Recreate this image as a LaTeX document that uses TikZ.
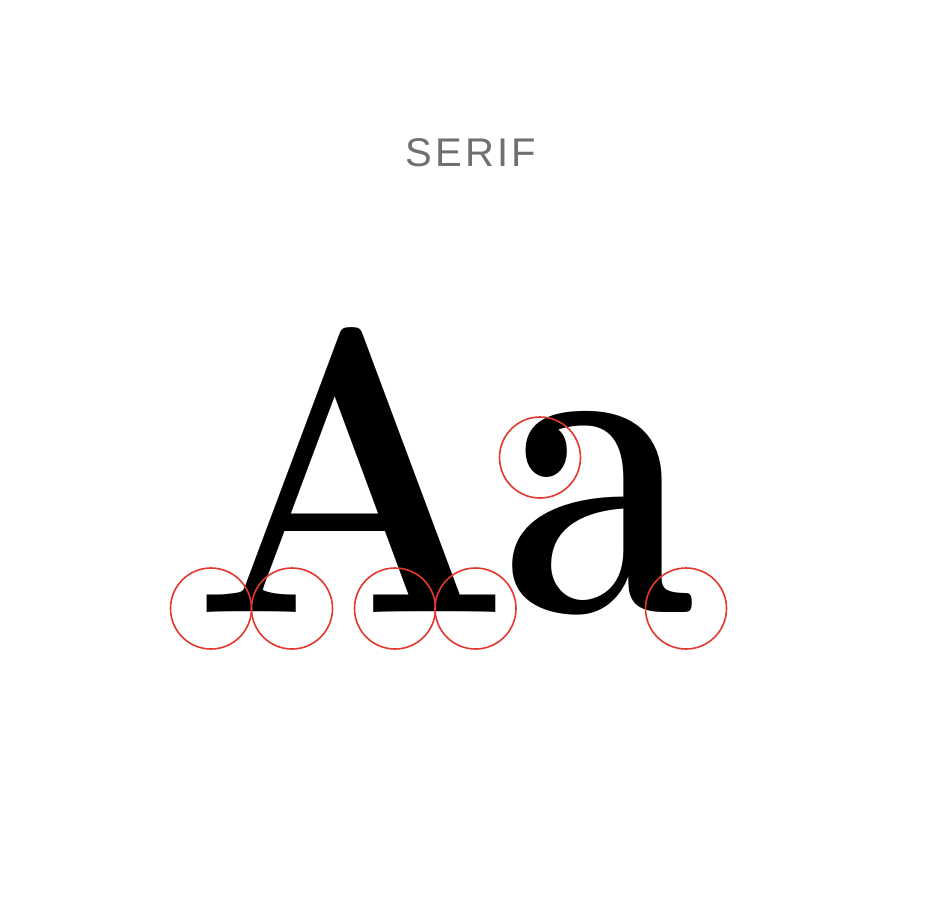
\documentclass[tikz,border=0pt]{standalone}
\usepackage{fontspec}
\newfontfamily\labelfont{Liberation Sans}[LetterSpace=8]
\definecolor{serifred}{HTML}{E2382E}
\definecolor{labelgray}{HTML}{707070}
\begin{document}
\begin{tikzpicture}[x=1pt,y=-1pt]
\tikzset{
  serifmark/.style={draw=serifred, line width=1.6pt, circle, minimum size=81pt, inner sep=0pt},
  glyph/.style={inner sep=0pt, outer sep=0pt, text=black},
  title/.style={inner sep=0pt, font=\labelfont\fontsize{40}{40}\selectfont, text=labelgray}
}
\fill[white] (0,0) rectangle (952,918);
\useasboundingbox (0,0) rectangle (952,918);
\node[title, anchor=base] (t) at (471,166.5) {SERIF};
\node[glyph, anchor=base west] (A) at (192,612) {\fontsize{407}{407}\selectfont\bfseries\scalebox{0.92}[1]{A}};
\node[glyph, anchor=base west] (a) at (502,612) {\fontsize{444}{444}\selectfont\bfseries\scalebox{0.79}[1]{a}};
\node[serifmark] (c1) at (211,608.5) {};
\node[serifmark] (c2) at (292,608.5) {};
\node[serifmark] (c3) at (395,608.5) {};
\node[serifmark] (c4) at (475.5,608.5) {};
\node[serifmark] (c5) at (540,457.5) {};
\node[serifmark] (c6) at (686,608.5) {};
\end{tikzpicture}
\end{document}
